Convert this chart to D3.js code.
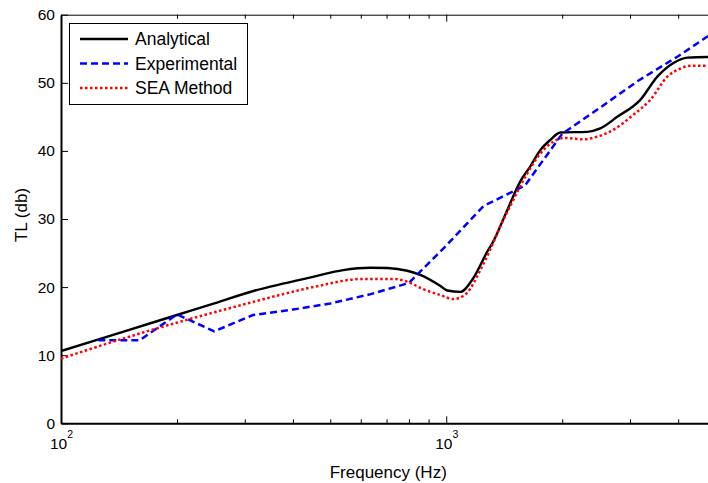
<!DOCTYPE html>
<html>
<head>
<meta charset="utf-8">
<script src="https://cdn.jsdelivr.net/npm/d3@7"></script>
<style>
  body { margin: 0; background: #fff; }
  svg { display: block; font-family: "Liberation Sans", Arial, sans-serif; }
</style>
</head>
<body>
<div id="container"></div>
<script>
// Datos (frecuencia en Hz, TL en dB)
const analyticalFreq = [100, 144, 200, 250, 319, 370, 451, 540, 635, 703, 792, 856, 964, 1006, 1087, 1175, 1278, 1316, 1440, 1556, 1652, 1754, 1862, 1977, 2323, 2511, 2779, 3190, 3532, 3889, 4229, 5000];
const analyticalTL   = [10.6, 13.4, 15.9, 17.6, 19.5, 20.4, 21.5, 22.5, 22.85, 22.8, 22.4, 21.8, 20.2, 19.5, 19.3, 21.3, 25.2, 26.4, 31.3, 35.5, 37.7, 40.1, 41.6, 42.7, 42.8, 43.3, 45.0, 47.5, 50.9, 52.9, 53.7, 53.8];

const experimentalFreq = [125, 160, 200, 250, 315, 400, 500, 630, 800, 1000, 1250, 1600, 2000, 2500, 3150, 4000, 5000];
const experimentalTL   = [12.2, 12.2, 16.0, 13.5, 15.9, 16.7, 17.6, 18.9, 20.6, 26.1, 31.9, 34.9, 42.5, 46.3, 50.3, 53.9, 57.6];

const seaFreq = [100, 148, 319, 370, 451, 609, 728, 792, 871, 964, 1043, 1107, 1134, 1226, 1357, 1381, 1493, 1529, 1623, 1754, 1897, 2014, 2269, 2468, 2715, 3060, 3388, 3750, 4054, 4303, 5000];
const seaTL   = [9.5, 12.6, 17.9, 18.85, 20.0, 21.2, 21.2, 20.8, 19.7, 18.85, 18.25, 18.7, 19.2, 22.5, 27.9, 28.9, 32.8, 34.0, 36.7, 39.6, 41.35, 41.9, 41.7, 42.1, 43.1, 45.3, 47.5, 50.9, 52.1, 52.5, 52.5];

const seriesNames = ["Analytical", "Experimental", "SEA Method"];

const yTicks = [0, 10, 20, 30, 40, 50, 60];
const xMajorTicks = [100, 1000];
const xMinorTicks = [200, 300, 400, 500, 600, 700, 800, 900, 2000, 3000, 4000];

// 1. Medidas
const WIDTH = 708,
      HEIGHT = 483;

// el area del grafico sigue mas alla del borde derecho (5000 Hz queda fuera)
const plot = { left: 61, right: 715.5, top: 14.7, bottom: 423.3 };

const svg = d3.select('#container').append('svg')
    .attr("width", WIDTH)
    .attr("height", HEIGHT);

// 2. Escalas
const xScale = d3.scaleLog()
    .domain([100, 5000])
    .range([plot.left, plot.right]);

const yScale = d3.scaleLinear()
    .domain([0, 60])
    .range([plot.bottom, plot.top]);

// 3. Ejes (ticks hacia adentro, como en MATLAB)
const bottomAxis = svg.append("g")
    .attr("transform", `translate(0, ${plot.bottom})`)
    .call(d3.axisBottom(xScale)
        .tickValues(xMajorTicks)
        .tickSizeInner(-7)
        .tickSizeOuter(0)
        .tickFormat(""));

bottomAxis.select(".domain").attr("stroke-width", 2);

// etiquetas 10^2, 10^3 con superindice
bottomAxis.selectAll(".tick")
    .append("text")
    .attr("fill", "#000")
    .attr("y", 25.5)
    .attr("text-anchor", "middle")
    .style("font-size", "15.5px")
    .each(function (d) {
        const t = d3.select(this);
        t.append("tspan").text("10");
        t.append("tspan")
            .attr("dy", -11)
            .style("font-size", "10.5px")
            .text(Math.round(Math.log10(d)));
    });

svg.append("g")
    .attr("transform", `translate(0, ${plot.bottom})`)
    .call(d3.axisBottom(xScale)
        .tickValues(xMinorTicks)
        .tickSizeInner(-4)
        .tickSizeOuter(0)
        .tickFormat(""))
    .call(g => g.select(".domain").remove());

svg.append("g")
    .attr("transform", `translate(0, ${plot.top})`)
    .call(d3.axisTop(xScale)
        .tickValues(xMajorTicks)
        .tickSizeInner(-7)
        .tickSizeOuter(0)
        .tickFormat(""));

svg.append("g")
    .attr("transform", `translate(0, ${plot.top})`)
    .call(d3.axisTop(xScale)
        .tickValues(xMinorTicks)
        .tickSizeInner(-4)
        .tickSizeOuter(0)
        .tickFormat(""))
    .call(g => g.select(".domain").remove());

const leftAxis = svg.append("g")
    .attr("transform", `translate(${plot.left}, 0)`)
    .call(d3.axisLeft(yScale)
        .tickValues(yTicks)
        .tickSizeInner(-7)
        .tickSizeOuter(0)
        .tickPadding(6));

leftAxis.select(".domain").attr("stroke-width", 2);
leftAxis.selectAll(".tick text")
    .attr("fill", "#000")
    .style("font-size", "15.5px");

svg.selectAll(".domain, .tick line").attr("stroke", "#000");

// Nombres de los ejes
svg.append("text")
    .attr("x", (plot.left + plot.right) / 2)
    .attr("y", 477.5)
    .attr("text-anchor", "middle")
    .style("font-size", "17px")
    .text("Frequency (Hz)");

svg.append("text")
    .attr("transform", "translate(27, 215) rotate(-90)")
    .attr("text-anchor", "middle")
    .style("font-size", "17px")
    .text("TL (db)");

// 4. Curvas
const series = [
    { name: seriesNames[0], freq: analyticalFreq, tl: analyticalTL, color: "#000000", dash: null, width: 2.4, curve: d3.curveMonotoneX },
    { name: seriesNames[1], freq: experimentalFreq, tl: experimentalTL, color: "#0000ff", dash: "7,4", width: 2.5, curve: d3.curveLinear },
    { name: seriesNames[2], freq: seaFreq, tl: seaTL, color: "#ff0000", dash: "2.5,2.5", width: 2.5, curve: d3.curveMonotoneX }
];

svg.append("clipPath").attr("id", "clip")
    .append("rect")
    .attr("x", plot.left).attr("y", plot.top)
    .attr("width", plot.right - plot.left)
    .attr("height", plot.bottom - plot.top);

const container = svg.append("g").attr("clip-path", "url(#clip)");

series.forEach(s => {
    const pts = s.freq.map((f, i) => [f, s.tl[i]]);
    const line = d3.line()
        .x(d => xScale(d[0]))
        .y(d => yScale(d[1]))
        .curve(s.curve);
    container.append("path")
        .datum(pts)
        .attr("fill", "none")
        .attr("stroke", s.color)
        .attr("stroke-width", s.width)
        .attr("stroke-dasharray", s.dash)
        .attr("d", line);
});

// 5. Leyenda
const legend = svg.append("g");

legend.append("rect")
    .attr("x", 69.5).attr("y", 23.5)
    .attr("width", 178).attr("height", 81)
    .attr("fill", "#fff")
    .attr("stroke", "#000")
    .attr("stroke-width", 1);

series.forEach((s, i) => {
    const ly = 39 + i * 24.5;
    legend.append("line")
        .attr("x1", 80).attr("x2", 128)
        .attr("y1", ly).attr("y2", ly)
        .attr("stroke", s.color)
        .attr("stroke-width", s.width)
        .attr("stroke-dasharray", s.dash);
    legend.append("text")
        .attr("x", 135)
        .attr("y", ly)
        .attr("dy", "0.37em")
        .style("font-size", "17.5px")
        .text(s.name);
});
</script>
</body>
</html>
